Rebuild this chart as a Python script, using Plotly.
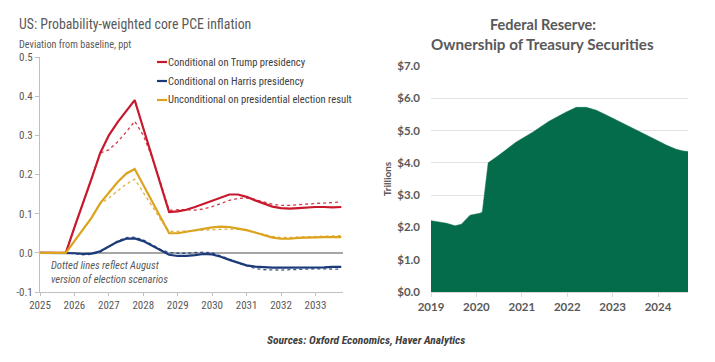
import plotly.graph_objects as go

# ---------------- Left chart data (quarterly, deviation from baseline, ppt) ----------------
quarters = [2025 + i * 0.25 for i in range(36)]

trump = [0, 0, 0, 0, 0.065, 0.125, 0.19, 0.255, 0.30, 0.333, 0.362, 0.39,
         0.318, 0.247, 0.175, 0.104, 0.106, 0.11, 0.117, 0.125, 0.133, 0.142, 0.149, 0.149,
         0.143, 0.134, 0.125, 0.118, 0.114, 0.113, 0.114, 0.116, 0.117, 0.117, 0.116, 0.117]
trump_aug = [0, 0, 0, 0, 0.065, 0.125, 0.19, 0.255, 0.263, 0.283, 0.308, 0.336,
             0.30, 0.245, 0.18, 0.108, 0.11, 0.11, 0.109, 0.112, 0.118, 0.126, 0.134, 0.139,
             0.14, 0.136, 0.13, 0.124, 0.121, 0.121, 0.123, 0.125, 0.126, 0.127, 0.128, 0.13]
harris = [0, 0, 0, 0, -0.001, -0.003, -0.002, 0.004, 0.015, 0.028, 0.036, 0.037,
          0.03, 0.018, 0.005, -0.005, -0.008, -0.008, -0.006, -0.003, -0.004, -0.01, -0.018, -0.026,
          -0.032, -0.035, -0.037, -0.038, -0.038, -0.038, -0.038, -0.038, -0.037, -0.037, -0.036, -0.036]
harris_aug = [0, 0, 0, 0, -0.002, -0.005, -0.004, 0.002, 0.016, 0.03, 0.039, 0.04,
              0.033, 0.021, 0.009, 0.001, -0.001, -0.001, 0.001, 0.002, 0.0, -0.007, -0.016, -0.026,
              -0.034, -0.04, -0.043, -0.044, -0.044, -0.043, -0.042, -0.042, -0.041, -0.041, -0.041, -0.042]
uncond = [0, 0, 0, 0, 0.03, 0.06, 0.09, 0.127, 0.155, 0.18, 0.202, 0.214,
          0.173, 0.132, 0.091, 0.05, 0.05, 0.054, 0.058, 0.062, 0.065, 0.067, 0.066, 0.062,
          0.058, 0.052, 0.045, 0.039, 0.036, 0.036, 0.038, 0.039, 0.039, 0.04, 0.04, 0.04]
uncond_aug = [0, 0, 0, 0, 0.03, 0.06, 0.09, 0.125, 0.14, 0.158, 0.175, 0.188,
              0.155, 0.12, 0.085, 0.055, 0.055, 0.056, 0.057, 0.058, 0.059, 0.06, 0.061, 0.06,
              0.057, 0.052, 0.047, 0.042, 0.039, 0.039, 0.04, 0.041, 0.042, 0.043, 0.043, 0.044]

series_names = ["Conditional on Trump presidency",
                "Conditional on Harris presidency",
                "Unconditional on presidential election result"]
left_ticks = [2025, 2026, 2027, 2028, 2029, 2030, 2031, 2032, 2033]
left_yticks = [-0.1, 0.0, 0.1, 0.2, 0.3, 0.4, 0.5]
left_ytext = ["-0.1", "0.0", "0.1", "0.2", "0.3", "0.4", "0.5"]

# ---------------- Right chart data (Fed Treasury holdings, $ trillions) ----------------
fed_x = [2019.0, 2019.17, 2019.34, 2019.53, 2019.67, 2019.86, 2020.08, 2020.13, 2020.26,
         2020.5, 2020.87, 2021.24, 2021.6, 2021.97, 2022.2, 2022.42, 2022.64, 2022.86,
         2023.08, 2023.3, 2023.52, 2023.74, 2023.96, 2024.18, 2024.4, 2024.55, 2024.66]
fed_y = [2.21, 2.17, 2.13, 2.05, 2.1, 2.38, 2.44, 2.48, 4.0,
         4.24, 4.64, 4.95, 5.29, 5.57, 5.72, 5.72, 5.63, 5.48,
         5.33, 5.17, 5.03, 4.86, 4.71, 4.55, 4.42, 4.37, 4.35]
right_ticks = [2019, 2020, 2021, 2022, 2023, 2024]
right_yticks = [0, 1, 2, 3, 4, 5, 6, 7]
right_ytext = ["$0.0", "$1.0", "$2.0", "$3.0", "$4.0", "$5.0", "$6.0", "$7.0"]

RED = "#C8182B"
BLUE = "#1B3A78"
GOLD = "#DCA31E"
GREEN = "#046B4B"
NARROW = "Liberation Sans Narrow, Roboto Condensed, Roboto, sans-serif"
BOLDF = "Lato, Open Sans, sans-serif"

W, H = 715, 362
fig = go.Figure()

# left series
solid = [(trump, RED), (harris, BLUE), (uncond, GOLD)]
dotted = [(trump_aug, RED), (harris_aug, BLUE), (uncond_aug, GOLD)]
for (vals, col) in dotted:
    fig.add_trace(go.Scatter(x=quarters, y=vals, mode="lines", xaxis="x", yaxis="y",
                             line=dict(color=col, width=1.3, dash="dot"), showlegend=False,
                             opacity=0.85))
for (vals, col), name in zip(solid, series_names):
    fig.add_trace(go.Scatter(x=quarters, y=vals, mode="lines", xaxis="x", yaxis="y", name=name,
                             line=dict(color=col, width=2.2), showlegend=False))

# right area
fig.add_trace(go.Scatter(x=fed_x, y=fed_y, mode="lines", fill="tozeroy", xaxis="x2", yaxis="y2",
                         fillcolor=GREEN, line=dict(color=GREEN, width=0.5),
                         showlegend=False))

def px_x(p):
    return p / W

def px_y(p):
    return 1 - p / H

fig.update_layout(
    template="none",
    width=W, height=H, margin=dict(l=0, r=0, t=0, b=0, pad=0, autoexpand=False),
    paper_bgcolor="white", plot_bgcolor="white", hovermode=False,
    xaxis=dict(domain=[px_x(40), px_x(343)], range=[2025, 2033.8], tickvals=left_ticks,
               ticktext=[str(t) for t in left_ticks], showgrid=False, zeroline=False,
               showline=True, linecolor="#BFBFBF", linewidth=1, ticks="outside", ticklen=3,
               tickcolor="#BFBFBF", tickfont=dict(family=NARROW, size=11, color="#595959"),
               anchor="y", automargin=False),
    yaxis=dict(domain=[px_y(292), px_y(57)], range=[-0.1, 0.5], tickvals=left_yticks,
               ticktext=left_ytext, showgrid=False, zeroline=True, zerolinecolor="#A6A6A6",
               zerolinewidth=1.5, showline=True, linecolor="#BFBFBF", linewidth=1,
               ticks="outside", ticklen=4, tickcolor="#BFBFBF",
               tickfont=dict(family=NARROW, size=11, color="#595959"), anchor="x",
               automargin=False),
    xaxis2=dict(domain=[px_x(431), px_x(688)], range=[2019, 2024.66], tickvals=right_ticks,
                ticktext=[str(t) for t in right_ticks], showgrid=False, zeroline=False,
                showline=True, linecolor="#D9D9D9", ticks="outside", ticklen=4, tickcolor="#D9D9D9",
                tickfont=dict(family=BOLDF, size=11.5, color="#595959", weight="bold"), anchor="y2",
                automargin=False),
    yaxis2=dict(domain=[px_y(292), px_y(66)], range=[0, 7], tickvals=right_yticks,
                ticktext=right_ytext, showgrid=True, gridcolor="#E3E3E3", gridwidth=1,
                zeroline=False, showline=False, ticks="", ticklabelstandoff=10,
                tickfont=dict(family=BOLDF, size=11.5, color="#595959", weight="bold"), anchor="x2",
                automargin=False,
                title=dict(text="Trillions", standoff=3,
                           font=dict(family=BOLDF, size=10, color="#595959", weight="bold"))),
)

annotations = [
    dict(text="US: Probability-weighted core PCE inflation", x=px_x(17), y=px_y(24),
         xanchor="left", yanchor="middle", font=dict(family=NARROW, size=13.8, color="#595959")),
    dict(text="Deviation from baseline, ppt", x=px_x(17), y=px_y(44), xanchor="left",
         yanchor="middle", font=dict(family=NARROW, size=10.2, color="#595959")),
    dict(text="<i>Dotted lines reflect August<br>version of election scenarios</i>", x=px_x(49),
         y=px_y(272), xanchor="left", yanchor="middle", align="left",
         font=dict(family=NARROW, size=10.6, color="#595959")),
    dict(text="<b>Federal Reserve:</b>", x=px_x(543), y=px_y(24), xanchor="center", yanchor="middle",
         font=dict(family=BOLDF, size=14.5, color="#595959")),
    dict(text="<b>Ownership of Treasury Securities</b>", x=px_x(542), y=px_y(44), xanchor="center",
         yanchor="middle", font=dict(family=BOLDF, size=15.2, color="#595959")),
    dict(text="<b><i>Sources: Oxford Economics, Haver Analytics</i></b>", x=px_x(366), y=px_y(340),
         xanchor="center", yanchor="middle", font=dict(family=NARROW, size=11.5, color="#404040")),
]
shapes = []
leg_cols = [RED, BLUE, GOLD]
leg_rows = [62, 81, 100]
for name, col, row in zip(series_names, leg_cols, leg_rows):
    shapes.append(dict(type="line", xref="paper", yref="paper", x0=px_x(157), x1=px_x(167),
                       y0=px_y(row), y1=px_y(row), line=dict(color=col, width=2.2)))
    annotations.append(dict(text=name, x=px_x(166), y=px_y(row), xanchor="left", yanchor="middle",
                            font=dict(family=NARROW, size=10.6, color="#404040")))
for a in annotations:
    a.update(xref="paper", yref="paper", showarrow=False)
fig.update_layout(annotations=annotations, shapes=shapes)

fig.write_html("out.html", config={"displayModeBar": False},
               post_script="document.body.style.margin='0';document.body.style.padding='0';")
